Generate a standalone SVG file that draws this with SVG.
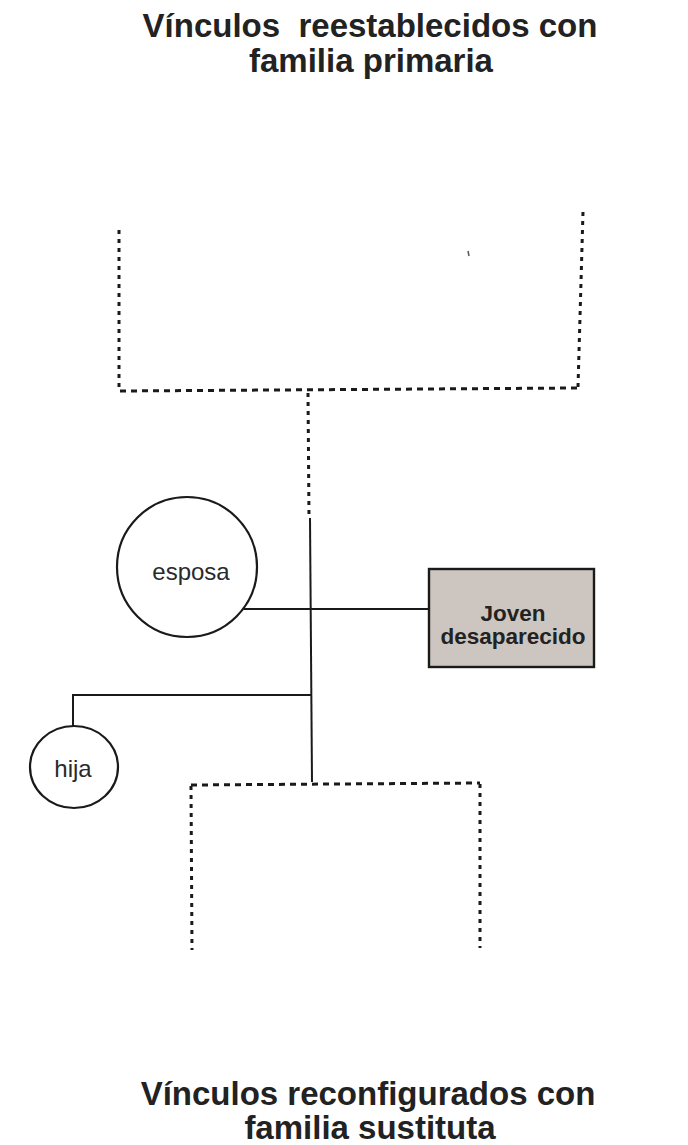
<svg xmlns="http://www.w3.org/2000/svg" width="688" height="1145" viewBox="0 0 688 1145">
<style>
.title{font-family:"Liberation Sans",Arial,sans-serif;font-weight:bold;font-size:33px;fill:#222;text-anchor:middle;white-space:pre}
.lbl{font-family:"Liberation Sans",Arial,sans-serif;font-size:24px;fill:#2a2a2a;text-anchor:middle}
.blbl{font-family:"Liberation Sans",Arial,sans-serif;font-weight:bold;font-size:22.5px;fill:#222;text-anchor:middle}
.solid{fill:none;stroke:#1a1a1a;stroke-width:2}
.dashh{fill:none;stroke:#1a1a1a;stroke-width:3;stroke-dasharray:6 5}
.dashv{fill:none;stroke:#1a1a1a;stroke-width:3;stroke-dasharray:4 5}
.node{fill:#fff;stroke:#1a1a1a;stroke-width:2.2}
</style>
<rect width="688" height="1145" fill="#fff"/>
<g id="title-top">
<text class="title" x="370" y="37" xml:space="preserve">Vínculos  reestablecidos con</text>
<text class="title" x="371" y="72">familia primaria</text>
</g>
<g id="title-bottom">
<text class="title" x="368" y="1105">Vínculos reconfigurados con</text>
<text class="title" x="370" y="1139">familia sustituta</text>
</g>
<g id="connectors">
<path class="dashv" d="M119 230 L119 390"/>
<path class="dashv" d="M583 212 L578 387"/>
<path class="dashh" d="M120 391 L578 388"/>
<path class="dashv" d="M308 393 L309 518"/>
<path class="solid" d="M310 518 L312 782"/>
<path class="solid" d="M244 609 L430 609"/>
<path class="solid" d="M312 695 L73 695 L73 726"/>
<path class="dashh" d="M191 785 L480 783"/>
<path class="dashv" d="M191 786 L192 950"/>
<path class="dashv" d="M480 784 L480 948"/>
</g>
<g id="node-esposa">
<circle class="node" cx="187" cy="567" r="70"/>
<text class="lbl" x="191" y="580">esposa</text>
</g>
<g id="node-joven">
<rect x="429" y="569" width="165" height="98" fill="#cdc6c0" stroke="#1a1a1a" stroke-width="2.4"/>
<text class="blbl" x="513" y="621">Joven</text>
<text class="blbl" x="513" y="644">desaparecido</text>
</g>
<g id="node-hija">
<ellipse class="node" cx="74" cy="767" rx="44" ry="41"/>
<text class="lbl" x="73" y="777">hija</text>
</g>
<path d="M468 251 L469 256" stroke="#555" stroke-width="1.5"/>
</svg>
